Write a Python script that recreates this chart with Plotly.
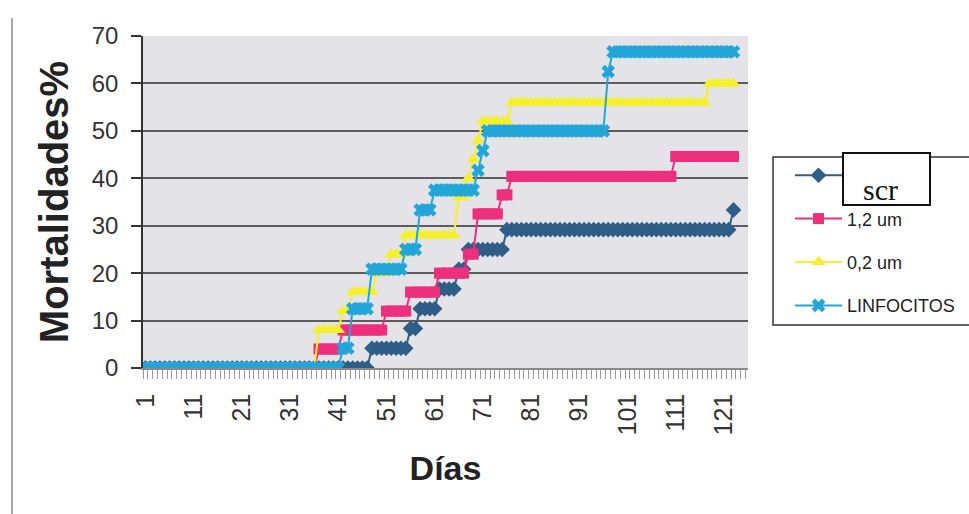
import plotly.graph_objects as go

# ---- data (one value per day, days 1..123) ----
days = list(range(1, 124))

scr = ([0] * 47 + [4.17] * 8 + [8.33] * 2 + [12.5] * 4 + [16.67] * 4 +
       [20.83] * 2 + [25.0] * 8 + [29.17] * 47 + [33.33] * 1)

um12 = ([0] * 36 + [4] * 5 + [8] * 9 + [12] * 5 + [16] * 6 + [20] * 6 +
        [24] * 2 + [32.5] * 5 + [36.5] * 2 + [40.4] * 34 + [44.6] * 13)

um02 = ([0] * 36 + [8] * 5 + [12] * 2 + [16] * 5 + [20] * 3 + [24] * 3 +
        [28] * 11 + [36] * 2 + [40] * 1 + [44] * 1 + [48] * 1 + [52] * 6 +
        [56] * 41 + [60] * 6)

linfocitos = ([0] * 41 + [4.17] * 2 + [12.5] * 4 + [20.83] * 7 + [25.0] * 3 +
              [33.33] * 3 + [37.5] * 9 + [41.67] * 1 + [45.83] * 1 + [50.0] * 25 +
              [62.5] * 1 + [66.67] * 26)

series_names = ["", "1,2 um", "0,2 um", "LINFOCITOS"]
x_tick_vals = list(range(1, 122, 10))
x_tick_text = [str(v) for v in x_tick_vals]
y_tick_vals = list(range(0, 71, 10))

colors = ["#2e5d88", "#ee2f7c", "#f6f02a", "#22a6d8"]
symbols = ["diamond", "square", "triangle-up", "x"]
sizes = [12, 11, 12, 12]

fig = go.Figure()
for i, (name, vals) in enumerate(zip(series_names, [scr, um12, um02, linfocitos])):
    fig.add_trace(go.Scatter(
        x=days, y=vals, name=name, mode="lines+markers",
        legendgroup="g%d" % i,
        line=dict(color=colors[i], width=2),
        marker=dict(symbol=symbols[i], size=sizes[i], color=colors[i],
                    line=dict(width=0)),
    ))

W, H = 969, 514
L, R, T, B = 143, 221, 36, 146
pw, ph = W - L - R, H - T - B


def px(x):
    return (x - L) / pw


def py(y):
    return (H - B - y) / ph


fig.update_layout(
    width=W, height=H,
    margin=dict(l=L, r=R, t=T, b=B, autoexpand=False),
    paper_bgcolor="white",
    plot_bgcolor="#e3e3e8",
    font=dict(family="Liberation Sans, Arial, sans-serif", color="#222"),
    showlegend=True,
    legend=dict(
        x=px(790), y=py(157), xanchor="left", yanchor="top",
        font=dict(size=18, color="#222"),
        bgcolor="rgba(0,0,0,0)", borderwidth=0,
        itemwidth=47, tracegroupgap=17, traceorder="grouped",
    ),
    xaxis=dict(
        range=[0.5, 126], tickmode="array", tickvals=x_tick_vals,
        ticktext=x_tick_text, tickangle=-90, ticks="",
        tickfont=dict(size=25, color="#333"), ticklabelstandoff=14,
        showgrid=False, zeroline=False, automargin=False,
        showline=True, linecolor="#8a8a8a", linewidth=1.5,
        minor=dict(tick0=0.5, dtick=1, ticks="outside", ticklen=9,
                   tickcolor="#999", tickwidth=1, showgrid=False),
        title=dict(text="Días", font=dict(size=34, weight="bold", color="#222"),
                   standoff=22),
    ),
    yaxis=dict(
        range=[0, 70], tickmode="array", tickvals=y_tick_vals,
        ticks="outside", ticklen=10, tickcolor="#333", tickwidth=1.5,
        tickfont=dict(size=24, color="#333"), ticklabelstandoff=8,
        showgrid=True, gridcolor="#5c5c5c", gridwidth=1.5,
        zeroline=False, showline=True, linecolor="#333", linewidth=1.5,
        automargin=False,
        title=dict(text="Mortalidades%", font=dict(size=40, weight="bold", color="#222"),
                   standoff=11),
    ),
    shapes=[
        # legend frame
        dict(type="rect", xref="paper", yref="paper",
             x0=px(773), x1=px(985), y0=py(325), y1=py(157),
             line=dict(color="#333", width=1.5), fillcolor="white", layer="above"),
        # text box over the first legend entry
        dict(type="rect", xref="paper", yref="paper",
             x0=px(843), x1=px(930), y0=py(205), y1=py(153),
             line=dict(color="#111", width=2), fillcolor="white", layer="above"),
        # scan edge on the left
        dict(type="line", xref="paper", yref="paper",
             x0=px(12), x1=px(12), y0=py(514), y1=py(18),
             line=dict(color="#8c8c8c", width=1.5)),
    ],
    annotations=[
        dict(text="scr", xref="paper", yref="paper", x=px(880), y=py(189),
             xanchor="center", yanchor="middle",
             showarrow=False, font=dict(family="Liberation Serif, Times New Roman, serif",
                                        size=30, color="#111")),
    ],
)

fig.write_html("out.html", config={"displayModeBar": False},
               post_script="document.body.style.margin='0px';document.body.style.overflow='hidden';")
